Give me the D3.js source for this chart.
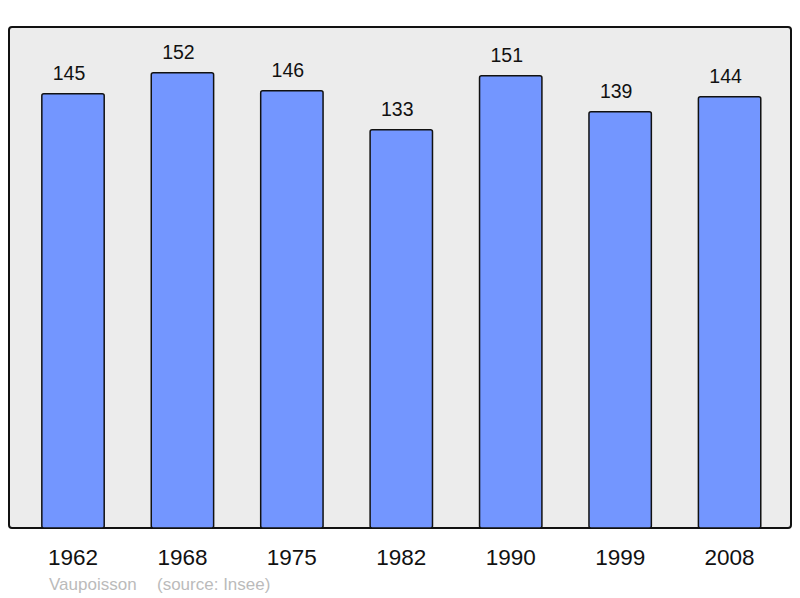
<!DOCTYPE html>
<html>
<head>
<meta charset="utf-8">
<script src="https://cdn.jsdelivr.net/npm/d3@7"></script>
<style>
  body { margin: 0; background: #fff; }
  text { font-family: "Liberation Sans", Arial, sans-serif; }
</style>
</head>
<body>
<div id="chart"></div>
<script>
const years = ["1962", "1968", "1975", "1982", "1990", "1999", "2008"];
const population = [145, 152, 146, 133, 151, 139, 144];
const commune = "Vaupoisson";
const source = "(source: Insee)";

const width = 800, height = 598;
const frame = { left: 9, top: 27, right: 791, bottom: 528 };

const svg = d3.select("#chart").append("svg")
    .attr("width", width)
    .attr("height", height);

svg.append("rect")
    .attr("x", frame.left)
    .attr("y", frame.top)
    .attr("width", frame.right - frame.left)
    .attr("height", frame.bottom - frame.top)
    .attr("rx", 3)
    .attr("fill", "#ececec")
    .attr("stroke", "#111")
    .attr("stroke-width", 2);

const x = d3.scaleBand()
    .domain(years)
    .range([18.3, 784.3])
    .paddingInner(0.43)
    .paddingOuter(0.215);

const y = d3.scaleLinear()
    .domain([0, 167.3])
    .range([frame.bottom, frame.top]);

const data = years.map((yr, i) => ({ year: yr, value: population[i] }));

svg.append("g").selectAll("rect")
    .data(data)
    .enter()
    .append("rect")
    .attr("x", d => x(d.year))
    .attr("y", d => y(d.value))
    .attr("width", x.bandwidth())
    .attr("height", d => frame.bottom - y(d.value))
    .attr("rx", 2)
    .attr("fill", "#7396ff")
    .attr("stroke", "#111")
    .attr("stroke-width", 1.5);

// value labels above bars
svg.append("g").selectAll("text")
    .data(data)
    .enter()
    .append("text")
    .attr("x", d => x(d.year) + x.bandwidth() / 2 - 4)
    .attr("y", d => y(d.value) - 14)
    .attr("text-anchor", "middle")
    .attr("font-size", 19.5)
    .attr("fill", "#111")
    .text(d => d.value);

// year labels under the frame
svg.append("g").selectAll("text")
    .data(years)
    .enter()
    .append("text")
    .attr("x", d => x(d) + x.bandwidth() / 2)
    .attr("y", 565)
    .attr("text-anchor", "middle")
    .attr("font-size", 22.5)
    .attr("fill", "#111")
    .text(d => d);

svg.append("text")
    .attr("x", 49)
    .attr("y", 590)
    .attr("font-size", 17)
    .attr("fill", "#bbb")
    .text(commune);

svg.append("text")
    .attr("x", 157)
    .attr("y", 590)
    .attr("font-size", 17)
    .attr("fill", "#bbb")
    .text(source);
</script>
</body>
</html>
